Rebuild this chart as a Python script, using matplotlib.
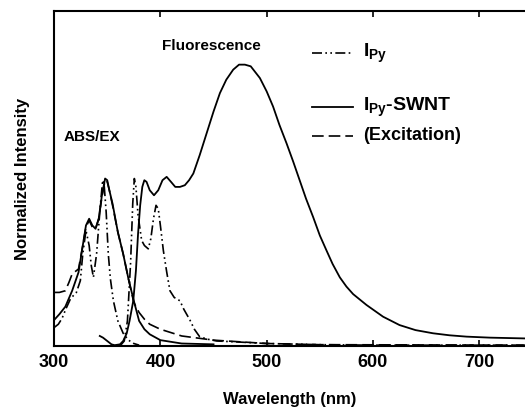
import numpy as np
import matplotlib.pyplot as plt

plt.rcParams['font.family'] = ['Liberation Sans', 'DejaVu Sans']
plt.rcParams['font.weight'] = 'bold'
plt.rcParams['mathtext.fontset'] = 'custom'
plt.rcParams['mathtext.rm'] = 'Liberation Sans:bold'
plt.rcParams['mathtext.bf'] = 'Liberation Sans:bold'

# IPy absorption (dash-dot)
wl_py_abs = [300, 304, 307.5, 311, 315.3, 318, 321, 324.7, 327, 330, 333, 335, 337, 340, 343, 345.7, 347,
             349, 351, 353, 355.8, 360, 365, 370, 375, 380]
py_abs = [0.11, 0.13, 0.165, 0.22, 0.28, 0.30, 0.32, 0.39, 0.55, 0.69, 0.60, 0.48, 0.41, 0.55, 0.80, 0.99, 0.97,
          0.80, 0.55, 0.40, 0.27, 0.15, 0.076, 0.035, 0.015, 0.005]

# IPy-SWNT absorption (solid)
wl_sw_abs = [300, 305, 310.6, 317, 323, 327, 330, 333, 336, 339, 342, 345, 348, 350, 352, 355, 360, 365, 370,
             375, 380, 385, 390, 400, 420, 450]
sw_abs = [0.155, 0.19, 0.235, 0.33, 0.44, 0.60, 0.72, 0.76, 0.72, 0.70, 0.76, 0.90, 1.0, 0.99, 0.93, 0.85, 0.68,
          0.55, 0.40, 0.27, 0.15, 0.10, 0.07, 0.035, 0.015, 0.01]

# IPy-SWNT excitation (dashed)
wl_exc = [300, 305, 310.6, 314, 317, 323, 327, 330, 333, 336, 339, 342, 345, 348, 350, 352, 355, 360, 365,
          370, 375, 380, 385, 390, 400, 420, 450, 500, 550, 745]
exc = [0.32, 0.32, 0.33, 0.38, 0.43, 0.46, 0.60, 0.71, 0.75, 0.71, 0.70, 0.76, 0.89, 0.99, 0.98, 0.93, 0.84,
       0.68, 0.55, 0.40, 0.26, 0.20, 0.16, 0.13, 0.10, 0.06, 0.035, 0.015, 0.008, 0.005]

# IPy fluorescence (dash-dot)
wl_py_fl = [362, 366, 369, 372, 374, 375.5, 377, 379, 382.4, 385, 388.6, 391, 393.5, 395.9, 398, 400,
            402.8, 406, 409, 413, 418.4, 422, 427.8, 432, 437, 445, 453, 470, 500, 550, 600, 745]
py_fl = [0.0, 0.03, 0.15, 0.50, 0.85, 1.0, 0.95, 0.78, 0.63, 0.60, 0.58, 0.64, 0.76, 0.84, 0.82, 0.72,
         0.57, 0.44, 0.33, 0.29, 0.27, 0.22, 0.155, 0.10, 0.055, 0.04, 0.03, 0.025, 0.015, 0.008, 0.005, 0.005]

# IPy-SWNT fluorescence (solid)
wl_sw_fl = [343, 346, 350, 354, 357, 362, 365, 368.3, 371, 374.5, 377, 379, 381, 383, 384.9, 387, 390, 394,
            398, 402, 405.9, 410, 414, 418.4, 423, 427, 431, 437, 443.5, 450, 456, 462, 468.5, 474, 479.5,
            485, 493.6, 500, 506, 512, 518.7, 525, 531, 537, 543.7, 550, 556.3, 562, 568.8, 575, 581.3,
            593.9, 609.5, 625, 640, 656.5, 672, 688, 710, 738, 745]
sw_fl = [0.06, 0.05, 0.03, 0.01, 0.005, 0.01, 0.03, 0.075, 0.15, 0.27, 0.45, 0.67, 0.84, 0.95, 0.99, 0.98,
         0.93, 0.90, 0.93, 0.99, 1.01, 0.98, 0.95, 0.95, 0.96, 0.99, 1.03, 1.14, 1.27, 1.40, 1.51, 1.59,
         1.65, 1.68, 1.68, 1.67, 1.60, 1.52, 1.43, 1.32, 1.21, 1.10, 0.99, 0.88, 0.77, 0.66, 0.57, 0.49,
         0.41, 0.355, 0.31, 0.245, 0.175, 0.125, 0.095, 0.076, 0.064, 0.056, 0.05, 0.046, 0.045]

dashdotdot = (0, (6, 2, 1, 2, 1, 2))

fig = plt.figure(figsize=(5.25, 4.09), dpi=100)
ax = fig.add_axes([0.103, 0.154, 0.897, 0.819])

ax.plot(wl_py_abs, py_abs, color='black', lw=1.2, linestyle=dashdotdot)
ax.plot(wl_sw_abs, sw_abs, color='black', lw=1.3, linestyle='-')
ax.plot(wl_exc, exc, color='black', lw=1.2, linestyle=(0, (7, 3)))
ax.plot(wl_py_fl, py_fl, color='black', lw=1.2, linestyle=dashdotdot)
ax.plot(wl_sw_fl, sw_fl, color='black', lw=1.3, linestyle='-')

ax.set_xlim(300, 743)
ax.set_ylim(0, 2.0)
ax.set_xticks([300, 400, 500, 600, 700])
ax.tick_params(axis='x', direction='in', top=True, length=4, width=1.2, labelsize=13, pad=6)
ax.set_yticks([])
ax.spines['right'].set_visible(False)
for s in ['left', 'top', 'bottom']:
    ax.spines[s].set_linewidth(1.5)

ax.set_xlabel('Wavelength (nm)', fontsize=12, fontweight='bold', labelpad=15)
ax.set_ylabel('Normalized Intensity', fontsize=12, fontweight='bold', labelpad=17)

ax.text(0.335, 0.895, 'Fluorescence', transform=ax.transAxes, fontsize=11, fontweight='bold',
        ha='center', va='center')
ax.text(0.02, 0.625, 'ABS/EX', transform=ax.transAxes, fontsize=11, fontweight='bold',
        ha='left', va='center')

# manual legend
leg_x0, leg_x1, leg_tx = 0.548, 0.635, 0.656
ax.plot([leg_x0, leg_x1], [0.874, 0.874], transform=ax.transAxes, color='black', lw=1.2,
        linestyle=dashdotdot)
ax.plot([leg_x0, leg_x1], [0.713, 0.713], transform=ax.transAxes, color='black', lw=1.3)
ax.plot([leg_x0, leg_x1], [0.627, 0.627], transform=ax.transAxes, color='black', lw=1.2,
        linestyle=(0, (7, 3)))
ax.text(leg_tx, 0.874, r'I$_{\mathbf{Py}}$', transform=ax.transAxes, fontsize=14, va='center')
ax.text(leg_tx, 0.713, r'I$_{\mathbf{Py}}$-SWNT', transform=ax.transAxes, fontsize=14, va='center')
ax.text(leg_tx, 0.627, '(Excitation)', transform=ax.transAxes, fontsize=13, va='center')

fig.savefig('out.png', dpi=100)
